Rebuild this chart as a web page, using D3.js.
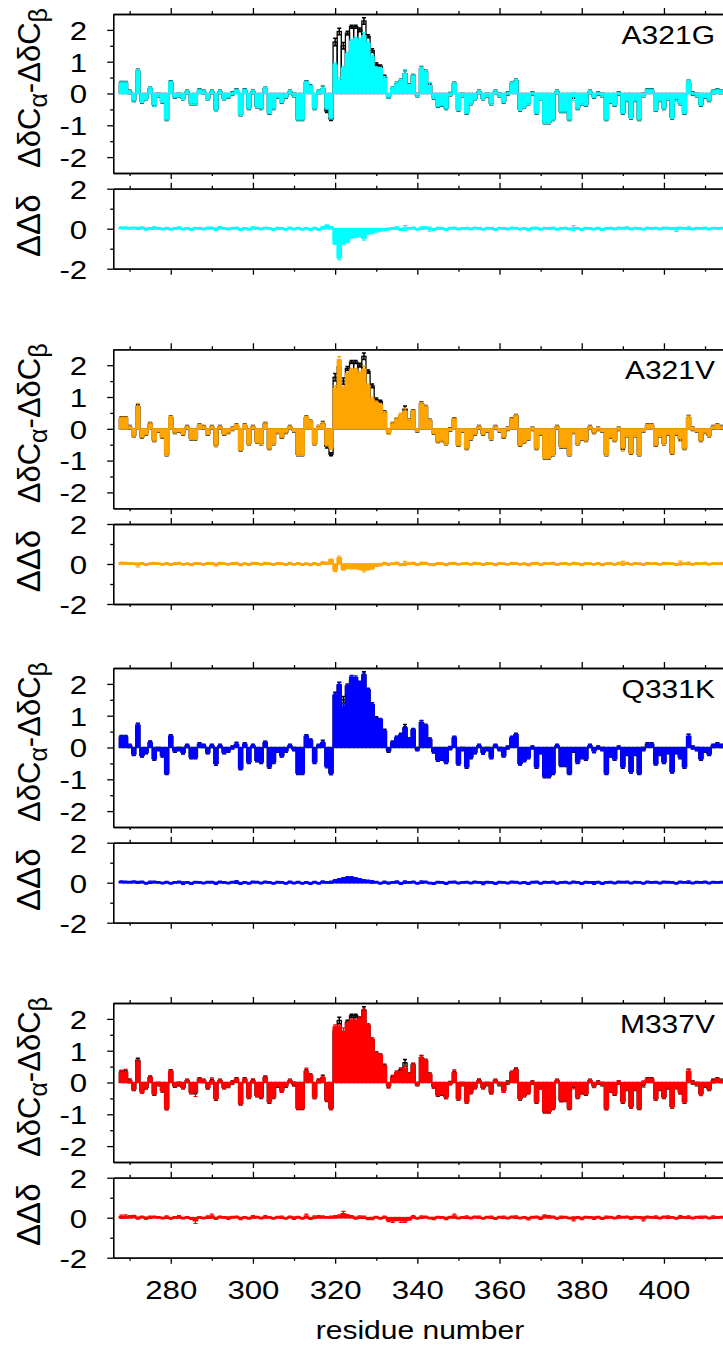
<!DOCTYPE html>
<html>
<head>
<meta charset="utf-8">
<script src="https://cdn.jsdelivr.net/npm/d3@7/dist/d3.min.js"></script>
<style>
  body { margin: 0; background: #fff; }
  svg { display: block; }
  text { font-family: "Liberation Sans", Arial, Helvetica, sans-serif; fill: #000; }
</style>
</head>
<body>
<div id="main"></div>
<script>
//////////
// DATA //
//////////

// residues 268 .. 414
const residues = d3.range(268, 415)
const mutants = ["A321G", "A321V", "Q331K", "M337V"]
const mutantColors = ["#00ffff", "#ffa500", "#0000ff", "#ff0000"]
const xMajorTicks = [280, 300, 320, 340, 360, 380, 400]
const xMinorTicks = [270, 290, 310, 330, 350, 370, 390, 410]
const topYTicks = [-2, -1, 0, 1, 2]
const topYMinor = [-1.5, -0.5, 0.5, 1.5]
const lowYTicks = [-2, 0, 2]
const lowYMinor = [-1, 1]

// wild type secondary shift (black outline)
const wt = [
  0.33, 0.33, 0.05, -0.2, 0.7, -0.25, -0.15, 0.15, -0.35, -0.05,
  -0.25, -0.8, 0.35, -0.1, -0.05, -0.15, 0.05, -0.3, -0.3, 0.1,
  0.05, -0.15, 0.05, -0.5, 0.05, -0.15, -0.1, 0, 0.1, -0.65,
  0.1, -0.45, 0.05, -0.4, -0.45, 0.15, -0.6, -0.45, -0.1, -0.25,
  -0.1, 0.05, -0.05, -0.8, -0.8, 0.35, 0.22, -0.45, 0.05, 0.15,
  -0.55, -0.8, 1.62, 1.95, 1.5, 1.9, 2.1, 2.1, 2.0, 2.28,
  1.8, 1.35, 0.92, 0.85, 0.52, -0.1, 0.15, 0.3, 0.4, 0.62,
  0.25, 0.55, -0.05, 0.78, 0.68, 0.25, -0.12, -0.38, -0.35, -0.45,
  -0.02, 0.3, -0.5, -0.05, -0.6, -0.3, -0.15, 0.05, -0.15, -0.05,
  -0.3, 0.05, -0.05, -0.25, 0, 0.3, 0.4, -0.5, -0.4, -0.3,
  0, -0.6, -0.15, -0.9, -0.9, -0.8, 0.05, -0.55, -0.55, -0.8,
  -0.1, -0.45, -0.3, -0.35, 0.05, -0.1, 0, -0.05, -0.8, -0.25,
  -0.35, 0, -0.6, -0.2, -0.75, -0.2, -0.8, -0.05, 0.1, 0.1,
  -0.5, -0.2, -0.45, -0.15, -0.75, -0.15, -0.3, -0.6, 0.35, 0,
  -0.05, -0.35, -0.1, -0.2, 0.05, 0.1, 0.05
]
const wtErr = [
  0.05, 0.05, 0.05, 0.05, 0.06, 0.05, 0.05, 0.05, 0.05, 0.05,
  0.05, 0.05, 0.05, 0.05, 0.05, 0.05, 0.05, 0.05, 0.05, 0.05,
  0.05, 0.05, 0.05, 0.06, 0.05, 0.05, 0.05, 0.05, 0.05, 0.05,
  0.05, 0.05, 0.05, 0.05, 0.05, 0.05, 0.05, 0.05, 0.05, 0.05,
  0.05, 0.05, 0.05, 0.05, 0.05, 0.05, 0.05, 0.05, 0.05, 0.08,
  0.05, 0.05, 0.12, 0.1, 0.1, 0.06, 0.05, 0.05, 0.06, 0.1,
  0.05, 0.06, 0.05, 0.05, 0.05, 0.05, 0.05, 0.05, 0.05, 0.1,
  0.05, 0.05, 0.05, 0.07, 0.05, 0.05, 0.05, 0.05, 0.05, 0.05,
  0.05, 0.05, 0.05, 0.05, 0.05, 0.05, 0.05, 0.05, 0.05, 0.05,
  0.05, 0.05, 0.05, 0.05, 0.05, 0.05, 0.05, 0.05, 0.05, 0.05,
  0.05, 0.05, 0.05, 0.05, 0.05, 0.05, 0.05, 0.05, 0.05, 0.05,
  0.05, 0.05, 0.05, 0.05, 0.05, 0.05, 0.05, 0.05, 0.05, 0.05,
  0.05, 0.05, 0.05, 0.05, 0.05, 0.05, 0.05, 0.05, 0.05, 0.05,
  0.05, 0.05, 0.05, 0.05, 0.05, 0.05, 0.05, 0.05, 0.07, 0.05,
  0.05, 0.05, 0.05, 0.05, 0.05, 0.05, 0.05
]

// A321G
const a321g = [
  0.33, 0.33, 0.05, -0.2, 0.7, -0.25, -0.15, 0.15, -0.35, -0.05,
  -0.25, -0.8, 0.35, -0.1, -0.05, -0.15, 0.05, -0.3, -0.3, 0.1,
  0.05, -0.15, 0.05, -0.5, 0.05, -0.15, -0.1, 0, 0.1, -0.65,
  0.1, -0.45, 0.05, -0.4, -0.45, 0.15, -0.6, -0.45, -0.1, -0.25,
  -0.1, 0.05, -0.05, -0.8, -0.8, 0.35, 0.22, -0.45, 0.05, 0.15,
  -0.45, -0.75, 0.9, 0.4, 0.8, 1.25, 1.65, 1.72, 1.68, 1.82,
  1.58, 1.15, 0.8, 0.78, 0.48, -0.1, 0.15, 0.3, 0.4, 0.62,
  0.25, 0.55, -0.05, 0.78, 0.68, 0.25, -0.12, -0.38, -0.35, -0.45,
  -0.02, 0.3, -0.5, -0.05, -0.6, -0.3, -0.15, 0.05, -0.15, -0.05,
  -0.3, 0.05, -0.05, -0.25, 0, 0.3, 0.4, -0.5, -0.4, -0.3,
  0, -0.6, -0.15, -0.9, -0.9, -0.8, 0.05, -0.55, -0.55, -0.8,
  -0.1, -0.45, -0.3, -0.35, 0.05, -0.1, 0, -0.05, -0.8, -0.25,
  -0.35, 0, -0.6, -0.2, -0.75, -0.2, -0.8, -0.05, 0.1, 0.1,
  -0.5, -0.2, -0.45, -0.15, -0.75, -0.15, -0.3, -0.6, 0.35, 0,
  -0.05, -0.35, -0.1, -0.2, 0.05, 0.1, 0.05
]
const a321gDiff = [
  0.05, 0.05, 0.03, 0.04, 0.02, 0.05, -0.03, 0.02, 0.04, 0.02,
  -0.02, 0.03, -0.03, 0.02, 0.05, -0.02, 0.02, -0.04, 0.03, 0.02,
  -0.02, 0.04, 0.03, -0.03, 0.06, 0.02, -0.02, 0.03, 0.04, -0.05,
  0.02, -0.03, 0.05, 0.03, -0.02, 0.04, 0.02, -0.04, 0.03, 0.02,
  -0.03, 0.04, -0.02, 0.03, -0.03, 0.02, -0.05, 0.03, -0.04, 0.05,
  0.15, 0.05, -0.72, -1.45, -0.72, -0.63, -0.42, -0.38, -0.35, -0.47,
  -0.22, -0.2, -0.13, -0.08, -0.05, -0.02, 0.02, 0.04, -0.05, 0.03,
  0.02, 0.04, -0.03, 0.03, 0.05, -0.02, -0.04, 0.03, 0.02, -0.05,
  0.03, 0.04, -0.02, 0.02, 0.03, -0.02, 0.04, 0.02, -0.03, 0.03,
  0.02, -0.04, 0.03, 0.02, -0.02, 0.04, 0.03, -0.02, 0.02, -0.06,
  0.03, 0.04, -0.03, 0.03, 0.02, 0.04, -0.03, 0.02, 0.03, -0.02,
  0.04, 0.02, -0.04, 0.03, 0.02, -0.02, 0.03, -0.05, 0.02, 0.03,
  -0.02, 0.04, 0.03, 0.05, -0.02, 0.03, 0.02, -0.03, 0.04, 0.02,
  0.03, -0.02, 0.04, 0.03, 0.02, -0.03, 0.04, 0.02, 0.03, -0.02,
  0.03, 0.02, 0.04, -0.02, 0.03, 0.02, 0.03
]
const a321gErr = [
  0.04, 0.04, 0.04, 0.04, 0.05, 0.04, 0.04, 0.04, 0.06, 0.04,
  0.04, 0.04, 0.04, 0.04, 0.04, 0.04, 0.04, 0.04, 0.04, 0.04,
  0.04, 0.04, 0.04, 0.06, 0.04, 0.04, 0.04, 0.04, 0.04, 0.04,
  0.04, 0.04, 0.04, 0.04, 0.04, 0.04, 0.04, 0.04, 0.04, 0.04,
  0.04, 0.04, 0.04, 0.04, 0.04, 0.04, 0.04, 0.04, 0.05, 0.06,
  0.04, 0.05, 0.06, 0.1, 0.06, 0.05, 0.05, 0.05, 0.06, 0.1,
  0.05, 0.06, 0.04, 0.04, 0.05, 0.05, 0.04, 0.05, 0.04, 0.12,
  0.04, 0.04, 0.04, 0.06, 0.04, 0.1, 0.04, 0.04, 0.04, 0.04,
  0.04, 0.04, 0.04, 0.04, 0.04, 0.04, 0.04, 0.04, 0.04, 0.04,
  0.04, 0.04, 0.04, 0.04, 0.04, 0.04, 0.04, 0.04, 0.04, 0.04,
  0.04, 0.04, 0.04, 0.04, 0.04, 0.04, 0.04, 0.04, 0.04, 0.04,
  0.12, 0.04, 0.04, 0.04, 0.04, 0.04, 0.04, 0.04, 0.04, 0.04,
  0.04, 0.04, 0.04, 0.04, 0.04, 0.04, 0.04, 0.04, 0.04, 0.04,
  0.04, 0.04, 0.04, 0.04, 0.04, 0.1, 0.04, 0.04, 0.06, 0.04,
  0.04, 0.04, 0.04, 0.04, 0.04, 0.04, 0.04
]

// A321V
const a321v = [
  0.33, 0.33, 0.05, -0.2, 0.7, -0.25, -0.15, 0.15, -0.35, -0.05,
  -0.25, -0.8, 0.35, -0.1, -0.05, -0.15, 0.05, -0.3, -0.3, 0.1,
  0.05, -0.15, 0.05, -0.5, 0.05, -0.15, -0.1, 0, 0.1, -0.65,
  0.1, -0.45, 0.05, -0.4, -0.45, 0.15, -0.6, -0.45, -0.1, -0.25,
  -0.1, 0.05, -0.05, -0.8, -0.8, 0.35, 0.22, -0.45, 0.05, 0.15,
  -0.5, -0.6, 1.28, 2.17, 1.28, 1.73, 1.85, 1.85, 1.75, 1.88,
  1.36, 0.94, 0.83, 0.75, 0.5, -0.12, 0.15, 0.3, 0.45, 0.55,
  0.25, 0.55, -0.05, 0.78, 0.68, 0.25, -0.12, -0.38, -0.35, -0.45,
  -0.02, 0.3, -0.5, -0.05, -0.6, -0.3, -0.15, 0.05, -0.15, -0.05,
  -0.3, 0.05, -0.05, -0.25, 0, 0.3, 0.4, -0.5, -0.4, -0.3,
  0, -0.6, -0.15, -0.9, -0.9, -0.8, 0.05, -0.55, -0.55, -0.8,
  -0.1, -0.45, -0.3, -0.35, 0.05, -0.1, 0, -0.05, -0.8, -0.25,
  -0.35, 0, -0.6, -0.2, -0.75, -0.2, -0.8, -0.05, 0.1, 0.1,
  -0.5, -0.2, -0.45, -0.15, -0.75, -0.15, -0.3, -0.6, 0.35, 0,
  -0.05, -0.35, -0.1, -0.2, 0.05, 0.1, 0.05
]
const a321vDiff = [
  0.05, 0.04, 0.03, 0.02, -0.05, 0.03, -0.03, 0.02, 0.04, 0.02,
  -0.02, 0.03, -0.03, 0.02, 0.04, -0.02, 0.02, -0.04, 0.03, 0.02,
  -0.02, 0.03, 0.03, -0.03, 0.04, 0.02, -0.02, 0.03, 0.04, -0.04,
  0.02, -0.03, 0.04, 0.03, -0.02, 0.04, 0.02, -0.03, 0.03, 0.02,
  -0.03, 0.04, -0.02, 0.03, -0.03, 0.02, -0.04, 0.03, -0.03, 0.06,
  0.05, 0.2, -0.3, 0.3, -0.25, -0.2, -0.2, -0.2, -0.22, -0.3,
  -0.25, -0.2, -0.08, -0.05, 0.03, -0.02, 0.02, 0.04, -0.04, 0.03,
  0.02, 0.04, -0.03, 0.03, 0.04, -0.02, -0.04, 0.03, 0.02, -0.04,
  0.03, 0.04, -0.02, 0.02, 0.03, -0.02, 0.04, 0.02, -0.03, 0.03,
  0.02, -0.04, 0.03, 0.02, -0.02, 0.04, 0.03, -0.02, 0.02, -0.05,
  0.03, 0.04, -0.03, 0.03, 0.02, 0.04, -0.03, 0.02, 0.03, -0.02,
  0.04, 0.02, -0.04, 0.03, 0.02, -0.02, 0.03, -0.04, 0.02, 0.03,
  -0.02, 0.04, 0.03, 0.04, -0.02, 0.03, 0.02, -0.03, 0.04, 0.02,
  0.03, -0.02, 0.04, 0.03, 0.02, -0.03, 0.04, 0.02, 0.03, -0.02,
  0.03, 0.02, 0.04, -0.02, 0.03, 0.02, 0.03
]
const a321vErr = [
  0.04, 0.04, 0.04, 0.04, 0.1, 0.04, 0.04, 0.04, 0.04, 0.04,
  0.04, 0.04, 0.04, 0.04, 0.04, 0.04, 0.04, 0.04, 0.04, 0.04,
  0.04, 0.04, 0.04, 0.06, 0.04, 0.04, 0.04, 0.04, 0.04, 0.04,
  0.04, 0.04, 0.04, 0.04, 0.04, 0.04, 0.04, 0.04, 0.04, 0.04,
  0.04, 0.04, 0.04, 0.04, 0.04, 0.04, 0.04, 0.04, 0.05, 0.06,
  0.04, 0.05, 0.08, 0.1, 0.06, 0.05, 0.05, 0.05, 0.06, 0.1,
  0.05, 0.06, 0.04, 0.04, 0.05, 0.05, 0.04, 0.05, 0.04, 0.1,
  0.04, 0.04, 0.04, 0.06, 0.04, 0.04, 0.04, 0.04, 0.04, 0.04,
  0.04, 0.04, 0.04, 0.04, 0.04, 0.04, 0.04, 0.04, 0.04, 0.04,
  0.04, 0.04, 0.04, 0.04, 0.04, 0.04, 0.04, 0.04, 0.04, 0.04,
  0.04, 0.04, 0.04, 0.04, 0.04, 0.04, 0.04, 0.04, 0.04, 0.04,
  0.04, 0.04, 0.04, 0.04, 0.04, 0.04, 0.04, 0.04, 0.04, 0.04,
  0.04, 0.04, 0.1, 0.04, 0.04, 0.04, 0.04, 0.04, 0.04, 0.04,
  0.04, 0.04, 0.04, 0.04, 0.04, 0.04, 0.1, 0.04, 0.06, 0.04,
  0.04, 0.04, 0.04, 0.04, 0.04, 0.04, 0.04
]

// Q331K
const q331k = [
  0.33, 0.33, 0.05, -0.2, 0.7, -0.25, -0.15, 0.15, -0.35, -0.05,
  -0.25, -0.8, 0.35, -0.1, -0.05, -0.15, 0.05, -0.3, -0.3, 0.1,
  0.05, -0.15, 0.05, -0.5, 0.05, -0.15, -0.1, 0, 0.1, -0.65,
  0.1, -0.45, 0.05, -0.4, -0.45, 0.15, -0.6, -0.45, -0.1, -0.25,
  -0.1, 0.05, -0.05, -0.8, -0.8, 0.35, 0.22, -0.45, 0.05, 0.15,
  -0.6, -0.8, 1.66, 1.98, 1.3, 1.95, 2.22, 2.2, 2.03, 2.28,
  1.82, 1.35, 0.9, 0.88, 0.5, -0.07, 0.16, 0.3, 0.4, 0.6,
  0.25, 0.55, -0.05, 0.78, 0.68, 0.25, -0.12, -0.38, -0.35, -0.45,
  -0.02, 0.3, -0.5, -0.05, -0.6, -0.3, -0.15, 0.05, -0.15, -0.05,
  -0.3, 0.05, -0.05, -0.25, 0, 0.3, 0.4, -0.5, -0.4, -0.3,
  0, -0.6, -0.15, -0.9, -0.9, -0.8, 0.05, -0.55, -0.55, -0.8,
  -0.1, -0.45, -0.3, -0.35, 0.05, -0.1, 0, -0.05, -0.8, -0.25,
  -0.35, 0, -0.6, -0.2, -0.75, -0.2, -0.8, -0.05, 0.1, 0.1,
  -0.5, -0.2, -0.45, -0.15, -0.75, -0.15, -0.3, -0.6, 0.35, 0,
  -0.05, -0.35, -0.1, -0.2, 0.05, 0.1, 0.05
]
const q331kDiff = [
  0.05, 0.04, 0.03, 0.05, 0.02, 0.04, -0.03, 0.02, 0.04, 0.02,
  -0.02, 0.03, -0.03, 0.02, 0.04, -0.02, 0.02, -0.04, 0.03, 0.02,
  -0.02, 0.03, 0.03, -0.03, 0.04, 0.02, -0.02, 0.03, 0.04, -0.04,
  0.02, -0.03, 0.04, 0.03, -0.02, 0.04, 0.02, -0.03, 0.03, 0.02,
  -0.03, 0.04, -0.02, 0.03, -0.03, 0.02, -0.04, 0.03, -0.03, 0.04,
  0.02, 0.03, 0.1, 0.15, 0.2, 0.25, 0.25, 0.2, 0.15, 0.1,
  0.08, 0.04, 0.03, -0.03, 0.03, -0.02, 0.02, 0.04, -0.04, 0.03,
  0.02, 0.04, -0.03, 0.03, 0.04, -0.02, -0.04, 0.03, 0.02, -0.04,
  0.03, 0.04, -0.02, 0.02, 0.03, -0.02, 0.04, 0.02, -0.03, 0.03,
  0.02, -0.04, 0.03, 0.02, -0.02, 0.04, 0.03, -0.02, 0.02, -0.05,
  0.03, 0.04, -0.03, 0.03, 0.02, 0.04, -0.03, 0.02, 0.03, -0.02,
  0.04, 0.02, -0.04, 0.03, 0.02, -0.02, 0.03, -0.04, 0.02, 0.03,
  -0.02, 0.04, 0.03, 0.04, -0.02, 0.03, 0.02, -0.03, 0.04, 0.02,
  0.03, -0.02, 0.04, 0.03, 0.02, -0.03, 0.04, 0.02, 0.03, -0.02,
  0.03, 0.02, 0.04, -0.02, 0.03, 0.02, 0.03
]
const q331kErr = [
  0.04, 0.04, 0.04, 0.04, 0.05, 0.04, 0.04, 0.06, 0.04, 0.04,
  0.04, 0.04, 0.04, 0.04, 0.04, 0.06, 0.04, 0.04, 0.04, 0.04,
  0.04, 0.04, 0.04, 0.05, 0.04, 0.04, 0.04, 0.04, 0.07, 0.04,
  0.04, 0.04, 0.04, 0.04, 0.04, 0.04, 0.04, 0.04, 0.04, 0.04,
  0.04, 0.04, 0.04, 0.04, 0.04, 0.04, 0.04, 0.04, 0.04, 0.05,
  0.04, 0.05, 0.06, 0.06, 0.06, 0.05, 0.05, 0.05, 0.06, 0.06,
  0.05, 0.06, 0.04, 0.04, 0.05, 0.05, 0.04, 0.05, 0.04, 0.06,
  0.04, 0.04, 0.04, 0.06, 0.04, 0.04, 0.04, 0.04, 0.04, 0.04,
  0.04, 0.04, 0.04, 0.04, 0.04, 0.04, 0.04, 0.04, 0.07, 0.04,
  0.04, 0.04, 0.04, 0.04, 0.04, 0.04, 0.04, 0.04, 0.04, 0.04,
  0.04, 0.04, 0.04, 0.04, 0.04, 0.04, 0.04, 0.04, 0.04, 0.04,
  0.04, 0.04, 0.04, 0.04, 0.04, 0.07, 0.04, 0.04, 0.04, 0.04,
  0.04, 0.04, 0.04, 0.04, 0.04, 0.04, 0.04, 0.04, 0.04, 0.04,
  0.04, 0.04, 0.04, 0.04, 0.04, 0.04, 0.04, 0.04, 0.06, 0.04,
  0.04, 0.04, 0.04, 0.04, 0.04, 0.04, 0.04
]

// M337V
const m337v = [
  0.3, 0.33, 0.05, -0.2, 0.65, -0.3, -0.15, 0.15, -0.35, -0.05,
  -0.25, -0.8, 0.35, -0.1, -0.05, -0.15, 0.05, -0.3, -0.3, 0.1,
  0.05, -0.15, 0.05, -0.5, 0.05, -0.15, -0.1, 0, 0.1, -0.65,
  0.1, -0.45, 0.05, -0.4, -0.45, 0.15, -0.6, -0.45, -0.1, -0.25,
  -0.1, 0.05, -0.05, -0.8, -0.8, 0.35, 0.22, -0.45, 0.05, 0.15,
  -0.55, -0.8, 1.75, 1.75, 1.6, 1.85, 1.95, 1.95, 2.0, 2.25,
  1.8, 1.35, 0.92, 0.85, 0.5, -0.1, 0.15, 0.3, 0.35, 0.45,
  0.25, 0.55, -0.05, 0.78, 0.68, 0.25, -0.12, -0.38, -0.35, -0.45,
  -0.02, 0.3, -0.5, -0.05, -0.6, -0.3, -0.15, 0.05, -0.15, -0.05,
  -0.3, 0.05, -0.05, -0.25, 0, 0.3, 0.4, -0.5, -0.4, -0.3,
  0, -0.6, -0.15, -0.9, -0.9, -0.8, 0.05, -0.55, -0.55, -0.8,
  -0.1, -0.45, -0.3, -0.35, 0.05, -0.1, 0, -0.05, -0.8, -0.25,
  -0.35, 0, -0.6, -0.2, -0.75, -0.2, -0.8, -0.05, 0.1, 0.1,
  -0.5, -0.2, -0.45, -0.15, -0.75, -0.15, -0.3, -0.6, 0.35, 0,
  -0.05, -0.35, -0.1, -0.2, 0.05, 0.1, 0.05
]
const m337vDiff = [
  0.05, 0.06, 0.05, 0.08, -0.02, 0.04, -0.03, 0.02, 0.04, 0.02,
  -0.02, 0.03, -0.03, 0.02, 0.04, -0.02, 0.02, -0.04, -0.15, 0.02,
  -0.02, 0.03, 0.08, -0.03, 0.04, 0.02, -0.02, 0.03, 0.04, -0.04,
  0.02, -0.03, 0.04, 0.03, -0.02, 0.04, 0.02, -0.03, 0.03, 0.02,
  -0.03, 0.04, -0.02, 0.03, -0.03, 0.08, -0.04, 0.03, 0.05, 0.04,
  0.02, 0.03, 0.05, 0.08, 0.2, 0.1, 0.05, -0.02, 0.03, 0.02,
  -0.05, -0.04, 0.03, -0.03, 0.03, -0.12, -0.15, -0.1, -0.14, -0.15,
  -0.08, 0.04, -0.03, 0.03, 0.04, -0.02, -0.04, 0.03, 0.02, -0.04,
  0.03, 0.08, -0.02, 0.02, 0.03, -0.02, 0.04, 0.02, -0.03, 0.03,
  0.02, -0.04, 0.03, 0.02, -0.02, 0.04, 0.03, -0.02, 0.02, -0.05,
  0.03, 0.04, -0.03, 0.08, 0.05, 0.04, -0.03, 0.02, 0.03, -0.02,
  -0.06, 0.02, -0.04, 0.03, 0.02, -0.02, 0.03, -0.04, 0.02, 0.03,
  -0.02, 0.04, 0.03, 0.04, -0.02, 0.03, 0.02, -0.06, 0.04, 0.02,
  0.03, -0.02, 0.04, 0.03, 0.02, -0.03, 0.04, 0.02, 0.03, -0.02,
  0.03, 0.02, 0.04, -0.02, 0.03, 0.02, 0.03
]
const m337vErr = [
  0.08, 0.08, 0.06, 0.04, 0.05, 0.04, 0.06, 0.06, 0.04, 0.04,
  0.04, 0.06, 0.04, 0.04, 0.06, 0.04, 0.04, 0.04, 0.14, 0.04,
  0.04, 0.06, 0.1, 0.05, 0.04, 0.04, 0.06, 0.04, 0.04, 0.06,
  0.04, 0.04, 0.06, 0.04, 0.04, 0.06, 0.04, 0.04, 0.04, 0.06,
  0.04, 0.04, 0.06, 0.04, 0.04, 0.1, 0.04, 0.06, 0.06, 0.05,
  0.04, 0.05, 0.06, 0.06, 0.12, 0.05, 0.05, 0.05, 0.06, 0.06,
  0.05, 0.06, 0.04, 0.04, 0.05, 0.08, 0.08, 0.05, 0.1, 0.08,
  0.04, 0.06, 0.04, 0.06, 0.04, 0.04, 0.06, 0.04, 0.04, 0.06,
  0.04, 0.1, 0.04, 0.04, 0.06, 0.04, 0.04, 0.06, 0.04, 0.04,
  0.06, 0.04, 0.04, 0.06, 0.04, 0.04, 0.06, 0.04, 0.04, 0.06,
  0.04, 0.04, 0.06, 0.06, 0.06, 0.04, 0.04, 0.06, 0.04, 0.04,
  0.1, 0.04, 0.06, 0.04, 0.04, 0.06, 0.04, 0.04, 0.06, 0.04,
  0.04, 0.06, 0.04, 0.04, 0.06, 0.04, 0.04, 0.1, 0.04, 0.04,
  0.06, 0.04, 0.04, 0.06, 0.04, 0.04, 0.06, 0.04, 0.06, 0.04,
  0.04, 0.06, 0.04, 0.04, 0.06, 0.04, 0.04
]

const mutantValues = [a321g, a321v, q331k, m337v]
const mutantDiffs = [a321gDiff, a321vDiff, q331kDiff, m337vDiff]
const mutantErrs = [a321gErr, a321vErr, q331kErr, m337vErr]

///////////
// SETUP //
///////////

const width = 723
const height = 1345
const groupTops = [14, 349.3, 668, 1003]
const topH = 159
const lowOffset = 174.7
const lowH = 80
const stretch = 1.2   // the lettering of the original is a wide grotesque
const font = '"Liberation Sans", Arial, Helvetica, sans-serif'

let x = d3.scaleLinear()
  .domain([266, 416])
  .range([113.2, 729.7])

let svg = d3.select("#main").append("svg")
  .attr("width", width)
  .attr("height", height)

//////////
// DRAW //
//////////

mutants.forEach(function(name, i) {
  let top = groupTops[i]
  let yTop = d3.scaleLinear().domain([-2.5, 2.5]).range([top + topH, top])
  let lowTop = top + lowOffset
  let yLow = d3.scaleLinear().domain([-2, 2]).range([lowTop + lowH, lowTop])
  let color = mutantColors[i]

  // upper panel: wild type outline + error bars, covered by the mutant boxes
  let gt = svg.append("g")
  draw_outline(gt, yTop, wt)
  draw_errors(gt, yTop, wt, wtErr, "#000", 1.5)
  draw_boxes(gt, yTop, mutantValues[i], color, 1.2)
  draw_errors(gt, yTop, mutantValues[i], mutantErrs[i], color, 1.2)
  draw_frame(yTop, top, top + topH, topYTicks, topYMinor, false)

  // lower panel
  let gl = svg.append("g")
  draw_boxes(gl, yLow, mutantDiffs[i], color, 1.6)
  draw_errors(gl, yLow, mutantDiffs[i], mutantErrs[i], color, 1.2)
  draw_frame(yLow, lowTop, lowTop + lowH, lowYTicks, lowYMinor, i === mutants.length - 1)

  // mutant name
  svg.append("text")
    .attr("transform", `translate(715,${top + 30}) scale(${stretch},1)`)
    .attr("text-anchor", "end")
    .style("font-size", "25px")
    .text(name)

  // y labels
  let lab = svg.append("text")
    .attr("transform", `translate(40,${top + 74}) rotate(-90)`)
    .attr("text-anchor", "middle")
    .style("font-size", "31px")
  lab.append("tspan").text("ΔδC")
  lab.append("tspan").attr("dy", 7).style("font-size", "25px").text("α")
  lab.append("tspan").attr("dy", -7).text("-ΔδC")
  lab.append("tspan").attr("dy", 7).style("font-size", "25px").text("β")

  svg.append("text")
    .attr("transform", `translate(40,${lowTop + 37}) rotate(-90)`)
    .attr("text-anchor", "middle")
    .style("font-size", "33px")
    .text("ΔΔδ")
})

svg.append("text")
  .attr("transform", `translate(420,1339) scale(${stretch},1)`)
  .attr("text-anchor", "middle")
  .style("font-size", "25px")
  .text("residue number")


function draw_outline(g, y, values) {
  g.selectAll("rect.wt")
    .data(residues)
    .enter().append("rect")
      .attr("class", "wt")
      .attr("x", r => x(r - 0.5))
      .attr("width", x(1) - x(0))
      .attr("y", (r, k) => Math.min(y(values[k]), y(0)))
      .attr("height", (r, k) => Math.abs(y(values[k]) - y(0)))
      .attr("fill", "none")
      .attr("stroke", "#000")
      .attr("stroke-width", 1.3)
}

function draw_boxes(g, y, values, color, border) {
  g.selectAll("rect.mut")
    .data(residues)
    .enter().append("rect")
      .attr("class", "mut")
      .attr("x", r => x(r - 0.5))
      .attr("width", x(1) - x(0))
      .attr("y", (r, k) => Math.min(y(values[k]), y(0)))
      .attr("height", (r, k) => Math.max(0.01, Math.abs(y(values[k]) - y(0))))
      .attr("fill", color)
      .attr("stroke", color)
      .attr("stroke-width", border)
}

function draw_errors(g, y, values, errs, color, lw) {
  let cap = 2
  let eb = g.append("g")
    .attr("stroke", color)
    .attr("stroke-width", lw)
    .attr("fill", "none")
  eb.selectAll("path")
    .data(residues)
    .enter().append("path")
      .attr("d", function(r, k) {
        let cx = x(r), lo = y(values[k] - errs[k]), hi = y(values[k] + errs[k])
        return `M${cx},${lo}V${hi}M${cx - cap},${lo}H${cx + cap}M${cx - cap},${hi}H${cx + cap}`
      })
}

function draw_frame(y, y0, y1, majorY, minorY, withXLabels) {
  let f = svg.append("g").attr("class", "frame")
  let put = function(axis, tx, ty) {
    return f.append("g").attr("transform", `translate(${tx},${ty})`).call(axis)
  }
  let label = d => String(d)   // plain hyphen minus, as in the original
  put(d3.axisTop(x).tickValues(xMinorTicks).tickSize(3).tickSizeOuter(0).tickFormat(""), 0, y0)
  put(d3.axisTop(x).tickValues(xMajorTicks).tickSize(6).tickSizeOuter(0).tickFormat(""), 0, y0)
  put(d3.axisBottom(x).tickValues(xMinorTicks).tickSize(3).tickSizeOuter(0).tickFormat(""), 0, y1)
  let bx = put(d3.axisBottom(x).tickValues(xMajorTicks).tickSize(6).tickSizeOuter(0)
      .tickFormat(withXLabels ? label : ""), 0, y1)
  put(d3.axisLeft(y).tickValues(minorY).tickSize(3).tickSizeOuter(0).tickFormat(""), x.range()[0], 0)
  let ly = put(d3.axisLeft(y).tickValues(majorY).tickSize(6).tickSizeOuter(0).tickFormat(label), x.range()[0], 0)

  ly.selectAll("text")
    .attr("x", -26 / stretch)
    .attr("dy", "0.36em")
    .attr("transform", `scale(${stretch},1)`)
  if (withXLabels) {
    bx.selectAll("text")
      .attr("y", 41)
      .attr("dy", 0)
      .attr("transform", `scale(${stretch},1)`)
  }
  f.selectAll("text")
    .attr("fill", "#000")
    .style("font-size", "26px")
    .style("font-family", font)
  f.selectAll("path.domain, line")
    .attr("stroke", "#000")
    .attr("stroke-width", 1.3)
}
</script>
</body>
</html>
